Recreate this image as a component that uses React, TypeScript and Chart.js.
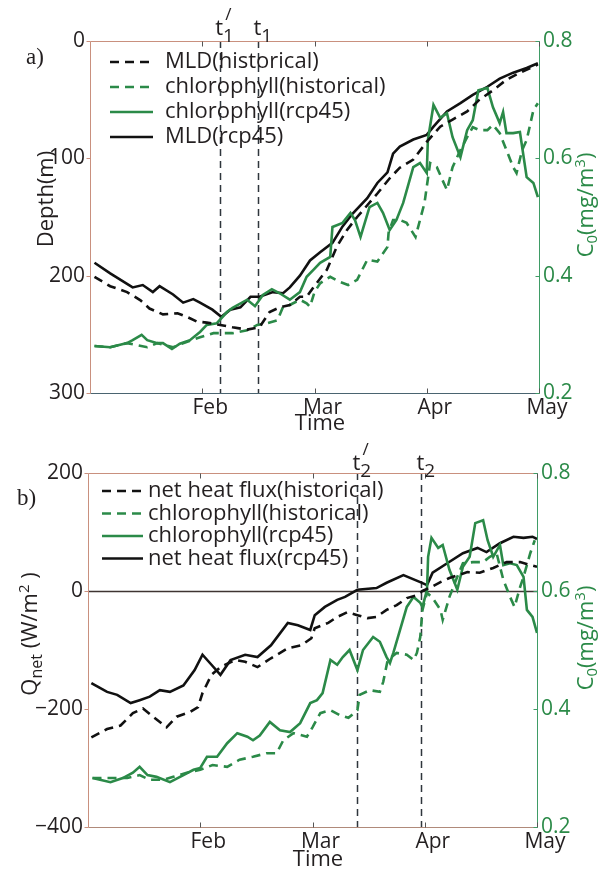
import React, { useEffect, useRef } from 'react';
import { Chart, registerables } from 'chart.js';
Chart.register(...registerables);

const FONT = "'Open Sans', sans-serif";
const INK = '#231f20';
const GREEN = '#2b8a48';
const BLACK = '#111111';

// ---- shared axis data ----
const monthTicks = [1, 2, 3, 4];
const monthLabels = ['Feb', 'Mar', 'Apr', 'May'];
const depthTicks = [0, 100, 200, 300];
const fluxTicks = [-400, -200, 0, 200];
const chlTicks = [0.2, 0.4, 0.6, 0.8];

// ---- panel a : [month position, value] ----
const mldHist: [number, number][] = [[0.04,201],[0.18,209],[0.33,214],[0.45,221],[0.53,228],[0.65,233],[0.78,232],[0.86,235],[0.95,239],[1.04,240],[1.16,242],[1.27,244],[1.40,246],[1.51,244],[1.60,231],[1.69,227],[1.78,225],[1.87,218],[1.93,218],[1.99,210],[2.11,195],[2.20,175],[2.29,161],[2.38,150],[2.47,140],[2.56,130],[2.67,117],[2.76,108],[2.88,101],[3.00,86],[3.12,73],[3.23,67],[3.36,60],[3.47,50],[3.59,42],[3.71,33],[3.83,27],[3.95,22],[3.99,20]];
const mldRcp: [number, number][] = [[0.04,189],[0.18,198],[0.38,210],[0.47,208],[0.56,214],[0.62,209],[0.74,216],[0.83,223],[0.92,220],[0.98,223],[1.09,229],[1.17,235],[1.25,229],[1.34,227],[1.43,218],[1.51,218],[1.63,214],[1.72,215],[1.78,210],[1.87,200],[1.96,187],[2.05,180],[2.16,172],[2.25,158],[2.34,147],[2.47,134],[2.56,121],[2.65,112],[2.70,96],[2.76,90],[2.88,84],[3.00,80],[3.06,73],[3.18,60],[3.30,53],[3.41,46],[3.54,39],[3.65,32],[3.77,27],[3.89,23],[3.99,19]];
const chlHistA: [number, number][] = [[0.04,0.280],[0.18,0.278],[0.33,0.285],[0.51,0.278],[0.60,0.285],[0.74,0.278],[0.86,0.287],[0.98,0.295],[1.10,0.302],[1.27,0.302],[1.40,0.307],[1.49,0.316],[1.58,0.319],[1.67,0.324],[1.72,0.347],[1.78,0.350],[1.87,0.359],[1.93,0.353],[1.96,0.347],[2.00,0.372],[2.05,0.387],[2.14,0.398],[2.23,0.389],[2.30,0.384],[2.38,0.393],[2.47,0.427],[2.56,0.424],[2.65,0.449],[2.66,0.473],[2.70,0.495],[2.76,0.495],[2.82,0.490],[2.90,0.466],[2.94,0.495],[2.98,0.524],[3.03,0.592],[3.09,0.585],[3.14,0.563],[3.18,0.546],[3.23,0.585],[3.30,0.614],[3.36,0.636],[3.41,0.653],[3.47,0.648],[3.54,0.648],[3.59,0.657],[3.65,0.643],[3.71,0.614],[3.77,0.585],[3.80,0.575],[3.85,0.614],[3.89,0.631],[3.95,0.682],[3.99,0.694]];
const chlRcpA: [number, number][] = [[0.04,0.280],[0.18,0.278],[0.33,0.285],[0.38,0.290],[0.46,0.299],[0.51,0.290],[0.60,0.285],[0.65,0.285],[0.73,0.275],[0.80,0.284],[0.89,0.290],[0.98,0.304],[1.04,0.316],[1.13,0.319],[1.22,0.338],[1.27,0.345],[1.40,0.359],[1.47,0.348],[1.54,0.367],[1.62,0.377],[1.69,0.370],[1.78,0.359],[1.87,0.372],[1.93,0.398],[1.99,0.410],[2.05,0.422],[2.14,0.432],[2.16,0.483],[2.25,0.490],[2.32,0.507],[2.36,0.495],[2.41,0.466],[2.49,0.517],[2.56,0.524],[2.61,0.507],[2.67,0.478],[2.73,0.495],[2.79,0.524],[2.88,0.585],[2.94,0.592],[3.00,0.575],[3.01,0.631],[3.06,0.691],[3.12,0.669],[3.18,0.677],[3.23,0.636],[3.30,0.602],[3.36,0.648],[3.41,0.665],[3.46,0.716],[3.54,0.720],[3.59,0.687],[3.65,0.660],[3.68,0.679],[3.71,0.643],[3.77,0.643],[3.83,0.645],[3.89,0.568],[3.95,0.558],[3.99,0.534]];

// ---- panel b ----
const fluxHist: [number, number][] = [[0.03,-248],[0.17,-234],[0.29,-228],[0.40,-207],[0.49,-199],[0.58,-213],[0.70,-231],[0.79,-213],[0.91,-205],[0.98,-197],[1.02,-173],[1.10,-142],[1.18,-129],[1.31,-117],[1.40,-120],[1.51,-129],[1.63,-114],[1.78,-97],[1.90,-92],[1.99,-80],[2.02,-63],[2.14,-54],[2.22,-44],[2.31,-36],[2.40,-41],[2.49,-46],[2.57,-44],[2.66,-32],[2.75,-24],[2.84,-12],[2.93,-7],[2.98,0],[3.06,7],[3.14,15],[3.22,22],[3.38,32],[3.49,31],[3.61,39],[3.73,49],[3.85,49],[3.94,44],[4.00,41]];
const fluxRcp: [number, number][] = [[0.03,-156],[0.17,-171],[0.26,-176],[0.38,-190],[0.46,-185],[0.55,-179],[0.64,-168],[0.73,-171],[0.85,-160],[0.95,-134],[1.02,-108],[1.10,-125],[1.18,-142],[1.27,-117],[1.40,-108],[1.51,-112],[1.63,-92],[1.78,-54],[1.87,-58],[1.98,-66],[2.02,-41],[2.11,-27],[2.22,-15],[2.29,-10],[2.40,2],[2.57,5],[2.66,14],[2.81,27],[2.96,15],[3.02,10],[3.07,31],[3.20,47],[3.34,64],[3.47,73],[3.55,66],[3.67,81],[3.79,92],[3.88,90],[3.96,92],[4.00,88]];
const chlHistB: [number, number][] = [[0.04,0.283],[0.35,0.283],[0.46,0.288],[0.55,0.280],[0.67,0.280],[0.76,0.285],[0.88,0.292],[1.00,0.297],[1.11,0.305],[1.24,0.302],[1.35,0.314],[1.47,0.319],[1.59,0.325],[1.68,0.325],[1.74,0.347],[1.83,0.359],[1.95,0.353],[2.00,0.369],[2.07,0.393],[2.16,0.398],[2.24,0.390],[2.32,0.385],[2.40,0.398],[2.42,0.424],[2.51,0.432],[2.60,0.429],[2.63,0.446],[2.67,0.483],[2.75,0.495],[2.84,0.492],[2.90,0.483],[2.93,0.495],[2.96,0.522],[2.98,0.568],[3.02,0.597],[3.07,0.588],[3.14,0.568],[3.16,0.551],[3.22,0.590],[3.29,0.624],[3.34,0.647],[3.43,0.649],[3.52,0.649],[3.58,0.658],[3.64,0.664],[3.70,0.619],[3.76,0.590],[3.80,0.573],[3.85,0.607],[3.88,0.624],[3.94,0.664],[3.98,0.686]];
const chlRcpB: [number, number][] = [[0.04,0.283],[0.20,0.276],[0.31,0.283],[0.40,0.292],[0.46,0.302],[0.53,0.288],[0.61,0.285],[0.73,0.276],[0.82,0.285],[0.94,0.297],[1.00,0.300],[1.06,0.319],[1.15,0.319],[1.24,0.342],[1.33,0.359],[1.42,0.353],[1.47,0.347],[1.53,0.355],[1.62,0.378],[1.71,0.364],[1.80,0.361],[1.89,0.376],[1.98,0.410],[2.04,0.415],[2.09,0.427],[2.16,0.483],[2.22,0.475],[2.27,0.488],[2.33,0.500],[2.40,0.466],[2.45,0.500],[2.54,0.522],[2.60,0.514],[2.66,0.488],[2.69,0.478],[2.72,0.495],[2.78,0.534],[2.84,0.573],[2.90,0.590],[2.96,0.580],[2.98,0.573],[3.02,0.602],[3.03,0.658],[3.06,0.690],[3.12,0.673],[3.16,0.678],[3.22,0.636],[3.29,0.602],[3.34,0.641],[3.40,0.658],[3.45,0.715],[3.52,0.720],[3.56,0.686],[3.61,0.658],[3.67,0.678],[3.70,0.644],[3.76,0.647],[3.82,0.644],[3.88,0.624],[3.91,0.568],[3.96,0.556],[4.00,0.529]];

// event times (month positions) and their names
const markersA = [1.16, 1.50];
const markersB = [2.40, 2.97];
const markerSubA = ['1', '1'];
const markerSubB = ['2', '2'];
const markerPrime = [true, false];

type Piece = { t: string; size: number; dy?: number };

function drawRich(ctx: CanvasRenderingContext2D, pieces: Piece[], x: number, y: number, rot: number, align: 'center' | 'left', color: string, family = FONT) {
  ctx.save();
  ctx.translate(x, y);
  ctx.rotate(rot);
  ctx.textBaseline = 'alphabetic';
  ctx.textAlign = 'left';
  ctx.fillStyle = color;
  let total = 0;
  for (const p of pieces) { ctx.font = `${p.size}px ${family}`; total += ctx.measureText(p.t).width; }
  let cx = align === 'center' ? -total / 2 : 0;
  for (const p of pieces) {
    ctx.font = `${p.size}px ${family}`;
    ctx.fillText(p.t, cx, p.dy || 0);
    cx += ctx.measureText(p.t).width;
  }
  ctx.restore();
}

interface Spec {
  height: number;
  top: number;
  bottomH: number;
  leftW: number;
  rightW: number;
  leftMin: number; leftMax: number; leftReverse: boolean; leftTicks: number[];
  datasets: { label: string; data: [number, number][]; color: string; dash: number[]; axis: string }[];
  markers: number[]; markerSub: string[];
  zeroLine: boolean;
  bottomSpine: string;
  legend: { x0: number; x1: number; tx: number; y0: number; dy: number };
  letter: { t: string; x: number; y: number };
  leftTitle: Piece[]; leftTitlePos: [number, number];
  rightTitlePos: [number, number];
  timePos: [number, number];
  tBase: number;
}

const SPINE = '#c9907e';
const RSPINE = '#3f9c66';

function makePlugin(spec: Spec) {
  return {
    id: 'decor',
    beforeDatasetsDraw(chart: any) {
      const { ctx, chartArea: a, scales } = chart;
      ctx.save();
      if (spec.zeroLine) {
        const y0 = Math.round(scales.yL.getPixelForValue(0)) + 0.5;
        ctx.strokeStyle = '#3e3432';
        ctx.lineWidth = 1.5;
        ctx.beginPath(); ctx.moveTo(a.left, y0); ctx.lineTo(a.right, y0); ctx.stroke();
      }
      ctx.setLineDash([7, 5]);
      ctx.strokeStyle = '#2f363c';
      ctx.lineWidth = 1.5;
      spec.markers.forEach((m) => {
        const px = Math.round(scales.x.getPixelForValue(m)) + 0.5;
        ctx.beginPath(); ctx.moveTo(px, a.top); ctx.lineTo(px, a.bottom); ctx.stroke();
      });
      ctx.restore();
    },
    afterDraw(chart: any) {
      const { ctx, chartArea: a, scales } = chart;
      ctx.save();
      const L = a.left + 0.5, R = a.right + 0.5, T = a.top + 0.5, B = a.bottom + 0.5;
      ctx.lineWidth = 1;
      ctx.setLineDash([]);
      // spines
      ctx.strokeStyle = SPINE;
      ctx.beginPath(); ctx.moveTo(L, B); ctx.lineTo(L, T); ctx.lineTo(R, T); ctx.stroke();
      ctx.strokeStyle = spec.bottomSpine;
      ctx.beginPath(); ctx.moveTo(L, B); ctx.lineTo(R, B); ctx.stroke();
      ctx.strokeStyle = RSPINE;
      ctx.beginPath(); ctx.moveTo(R, T); ctx.lineTo(R, B); ctx.stroke();
      // tick marks
      ctx.strokeStyle = '#555';
      monthTicks.forEach((v) => {
        const px = Math.round(scales.x.getPixelForValue(v)) + 0.5;
        ctx.beginPath(); ctx.moveTo(px, B); ctx.lineTo(px, B - 5); ctx.moveTo(px, T); ctx.lineTo(px, T + 5); ctx.stroke();
      });
      ctx.strokeStyle = SPINE;
      spec.leftTicks.forEach((v) => {
        const py = Math.round(scales.yL.getPixelForValue(v)) + 0.5;
        ctx.beginPath(); ctx.moveTo(L - 4, py); ctx.lineTo(L, py); ctx.stroke();
      });
      ctx.strokeStyle = RSPINE;
      chlTicks.forEach((v) => {
        const py = Math.round(scales.yR.getPixelForValue(v)) + 0.5;
        ctx.beginPath(); ctx.moveTo(R - 4, py); ctx.lineTo(R, py); ctx.stroke();
      });
      // legend
      const lg = spec.legend;
      chart.data.datasets.forEach((d: any, i: number) => {
        const y = lg.y0 + i * lg.dy;
        ctx.strokeStyle = d.borderColor;
        ctx.lineWidth = 2.6;
        ctx.setLineDash(d.borderDash || []);
        ctx.beginPath(); ctx.moveTo(lg.x0, y); ctx.lineTo(lg.x1, y); ctx.stroke();
        ctx.setLineDash([]);
        ctx.fillStyle = INK;
        ctx.font = `22px ${FONT}`;
        ctx.textBaseline = 'middle';
        ctx.textAlign = 'left';
        ctx.fillText(d.label, lg.tx, y);
      });
      // panel letter
      drawRich(ctx, [{ t: spec.letter.t, size: 23 }], spec.letter.x, spec.letter.y, 0, 'left', INK, "'Liberation Serif', serif");
      // axis titles
      drawRich(ctx, spec.leftTitle, spec.leftTitlePos[0], spec.leftTitlePos[1], -Math.PI / 2, 'center', INK);
      drawRich(ctx, [{ t: 'C', size: 22 }, { t: '0', size: 15, dy: 4 }, { t: '(mg/m', size: 22 }, { t: '3', size: 15, dy: -8 }, { t: ')', size: 22 }], spec.rightTitlePos[0], spec.rightTitlePos[1], -Math.PI / 2, 'center', GREEN);
      drawRich(ctx, [{ t: 'Time', size: 22 }], spec.timePos[0], spec.timePos[1], 0, 'center', INK);
      // event labels
      spec.markers.forEach((m, i) => {
        const px = scales.x.getPixelForValue(m);
        drawRich(ctx, [{ t: 't', size: 22 }, { t: spec.markerSub[i], size: 19, dy: 7 }], px - 5, spec.tBase, 0, 'left', INK);
        if (markerPrime[i]) drawRich(ctx, [{ t: '/', size: 17 }], px + 5, spec.tBase - 15, 0, 'left', INK);
      });
      ctx.restore();
    },
  };
}

function buildConfig(spec: Spec): any {
  const tickFont = { family: FONT, size: 21 };
  return {
    type: 'line',
    data: {
      datasets: spec.datasets.map((d) => ({
        label: d.label,
        data: d.data.map(([x, y]) => ({ x, y })),
        borderColor: d.color,
        borderDash: d.dash,
        borderWidth: 2.6,
        pointRadius: 0,
        tension: 0,
        fill: false,
        yAxisID: d.axis,
      })),
    },
    options: {
      responsive: false,
      animation: false,
      devicePixelRatio: 1,
      layout: { padding: { top: spec.top, left: 0, right: 0, bottom: 0 } },
      plugins: { legend: { display: false }, tooltip: { enabled: false } },
      scales: {
        x: {
          type: 'linear', min: 0, max: 4,
          afterBuildTicks: (s: any) => { s.ticks = monthTicks.map((v) => ({ value: v })); },
          ticks: { callback: (_v: any, i: number) => monthLabels[i], font: tickFont, color: INK, padding: 2, labelOffset: 8, maxRotation: 0, autoSkip: false },
          grid: { display: false, drawTicks: false },
          border: { display: false },
          afterFit: (s: any) => { s.height = spec.bottomH; },
        },
        yL: {
          type: 'linear', position: 'left', min: spec.leftMin, max: spec.leftMax, reverse: spec.leftReverse,
          afterBuildTicks: (s: any) => { s.ticks = spec.leftTicks.map((v) => ({ value: v })); },
          ticks: { callback: (v: number) => String(v).replace('-', '\u2212'), font: tickFont, color: INK, padding: 5 },
          grid: { display: false, drawTicks: false },
          border: { display: false },
          afterFit: (s: any) => { s.width = spec.leftW; },
        },
        yR: {
          type: 'linear', position: 'right', min: 0.2, max: 0.8,
          afterBuildTicks: (s: any) => { s.ticks = chlTicks.map((v) => ({ value: v })); },
          ticks: { callback: (v: number) => v.toFixed(1), font: tickFont, color: GREEN, padding: 4 },
          grid: { display: false, drawTicks: false },
          border: { display: false },
          afterFit: (s: any) => { s.width = spec.rightW; },
        },
      },
    },
    plugins: [makePlugin(spec)],
  };
}

const specA: Spec = {
  height: 445, top: 41, bottomH: 52, leftW: 90, rightW: 64,
  leftMin: 0, leftMax: 300, leftReverse: true, leftTicks: depthTicks,
  datasets: [
    { label: 'MLD(historical)', data: mldHist, color: BLACK, dash: [9, 6], axis: 'yL' },
    { label: 'chlorophyll(historical)', data: chlHistA, color: GREEN, dash: [9, 6], axis: 'yR' },
    { label: 'chlorophyll(rcp45)', data: chlRcpA, color: GREEN, dash: [], axis: 'yR' },
    { label: 'MLD(rcp45)', data: mldRcp, color: BLACK, dash: [], axis: 'yL' },
  ],
  markers: markersA, markerSub: markerSubA, zeroLine: false, bottomSpine: '#4a6470',
  legend: { x0: 110, x1: 153, tx: 165, y0: 62, dy: 25 },
  letter: { t: 'a)', x: 26, y: 64 },
  leftTitle: [{ t: 'Depth(m)', size: 22 }], leftTitlePos: [53, 199],
  rightTitlePos: [593, 205], timePos: [320, 430], tBase: 35,
};

const specB: Spec = {
  height: 441, top: 41, bottomH: 46, leftW: 88, rightW: 66,
  leftMin: -400, leftMax: 200, leftReverse: false, leftTicks: fluxTicks,
  datasets: [
    { label: 'net heat flux(historical)', data: fluxHist, color: BLACK, dash: [9, 6], axis: 'yL' },
    { label: 'chlorophyll(historical)', data: chlHistB, color: GREEN, dash: [9, 6], axis: 'yR' },
    { label: 'chlorophyll(rcp45)', data: chlRcpB, color: GREEN, dash: [], axis: 'yR' },
    { label: 'net heat flux(rcp45)', data: fluxRcp, color: BLACK, dash: [], axis: 'yL' },
  ],
  markers: markersB, markerSub: markerSubB, zeroLine: true, bottomSpine: '#b08a7a',
  legend: { x0: 102, x1: 143, tx: 148, y0: 59, dy: 22.5 },
  letter: { t: 'b)', x: 17, y: 73 },
  leftTitle: [{ t: 'Q', size: 22 }, { t: 'net', size: 16, dy: 5 }, { t: ' (W/m', size: 22 }, { t: '2', size: 15, dy: -8 }, { t: ' )', size: 22 }],
  leftTitlePos: [37, 202],
  rightTitlePos: [593, 206], timePos: [318, 434], tBase: 38,
};

function Panel({ spec, top }: { spec: Spec; top: number }) {
  const ref = useRef<HTMLCanvasElement>(null);
  useEffect(() => {
    const chart = new Chart(ref.current as HTMLCanvasElement, buildConfig(spec));
    return () => chart.destroy();
  }, [spec]);
  return (
    <canvas
      ref={ref}
      width={603}
      height={spec.height}
      style={{ position: 'absolute', left: 0, top, width: 603, height: spec.height }}
    />
  );
}

export default function App() {
  return (
    <div style={{ position: 'absolute', left: 0, top: 0, width: 603, height: 873, background: '#fff' }}>
      <Panel spec={specA} top={0} />
      <Panel spec={specB} top={432} />
    </div>
  );
}
